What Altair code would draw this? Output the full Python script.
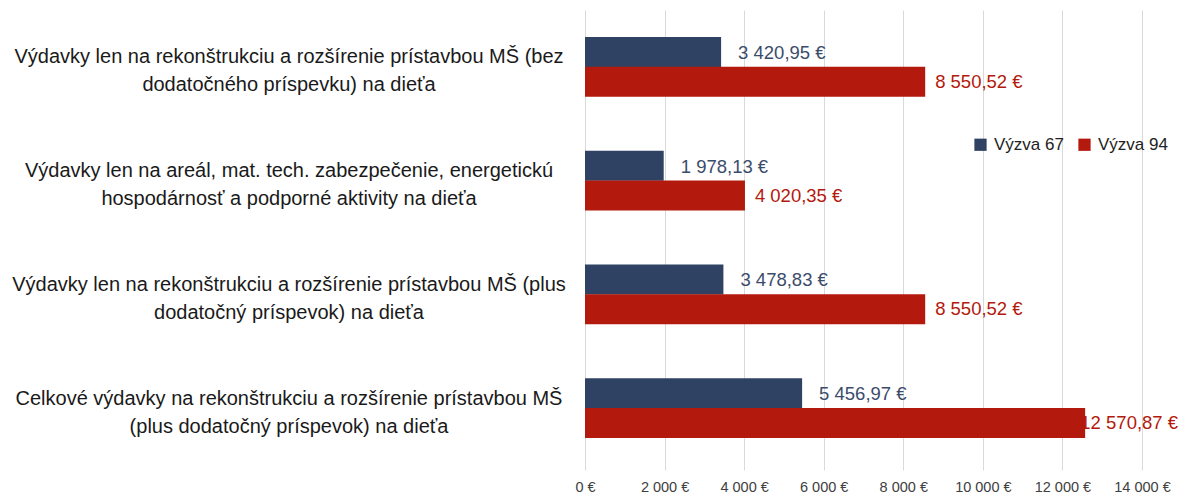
import altair as alt
import pandas as pd

categories = [
    "Výdavky len na rekonštrukciu a rozšírenie prístavbou MŠ (bez|dodatočného  príspevku) na  dieťa",
    "Výdavky len na areál, mat. tech.  zabezpečenie, energetickú|hospodárnosť a podporné aktivity na dieťa",
    "Výdavky len na rekonštrukciu a rozšírenie prístavbou MŠ (plus|dodatočný príspevok) na dieťa",
    "Celkové výdavky na rekonštrukciu a rozšírenie prístavbou MŠ|(plus dodatočný príspevok) na dieťa",
]
series = ["Výzva 67", "Výzva 94"]
v67 = [3420.95, 1978.13, 3478.83, 5456.97]
v94 = [8550.52, 4020.35, 8550.52, 12570.87]
tick_values = [0, 2000, 4000, 6000, 8000, 10000, 12000, 14000]

def fmt(v):
    s = f"{v:,.2f}".replace(",", " ").replace(".", ",")
    return s + " €"

rows = []
for c, a, b in zip(categories, v67, v94):
    rows.append({"cat": c, "series": series[0], "value": a, "label": fmt(a)})
    rows.append({"cat": c, "series": series[1], "value": b, "label": fmt(b)})
df = pd.DataFrame(rows)
cat_df = pd.DataFrame({"cat": categories})

FONT = "Liberation Sans"
BLUE = "#2f4263"
RED = "#b3190c"

yscale = alt.Scale(paddingInner=0.473, paddingOuter=0.2365)
y_enc = alt.Y("cat:N", sort=categories, axis=None, scale=yscale)
x_enc = alt.X("value:Q", scale=alt.Scale(domain=[0, 14000], nice=False),
              axis=alt.Axis(values=tick_values, title=None, labelOverlap=False, labelFlush=False,
                            labelExpr="datum.value == 0 ? '0 €' : floor(datum.value/1000) + ' 000 €'",
                            labelFont=FONT, labelFontSize=14.5, labelColor="#404040",
                            labelPadding=10, grid=True, gridColor="#d9d9d9",
                            tickColor="#d9d9d9", tickSize=5, domain=False))
color_enc = alt.Color("series:N", scale=alt.Scale(domain=series, range=[BLUE, RED]),
                      legend=alt.Legend(title=None, orient="none", legendX=387, legendY=126,
                                        direction="horizontal", symbolType="square",
                                        symbolSize=150, symbolStrokeWidth=0,
                                        labelFont=FONT, labelFontSize=17, labelColor="#222222",
                                        columnPadding=12, labelOffset=5))

base = alt.Chart(df)
yoff = alt.YOffset("series:N", sort=series)
bars = base.mark_bar(size=30).encode(y=y_enc, x=x_enc, color=color_enc, yOffset=yoff)

txt67 = base.transform_filter(alt.datum.series == series[0]).mark_text(
    align="left", baseline="middle", dx=17, font=FONT, fontSize=18.5, color="#3b4c6b", dy=1
).encode(y=y_enc, x="value:Q", yOffset=yoff, text="label:N")

# Excel keeps outside-end labels inside the chart area: shift the label left if it would overflow
txt94 = base.transform_filter(alt.datum.series == series[1]).transform_calculate(
    lx="min(datum.value + 250, 12450)"
).mark_text(
    align="left", baseline="middle", font=FONT, fontSize=18.5, color=RED
).encode(y=y_enc, x="lx:Q", yOffset=yoff, text="label:N")

cat_labels = alt.Chart(cat_df).mark_text(
    align="center", baseline="middle", lineBreak="|", lineHeight=28,
    font=FONT, fontSize=20, color="#1a1a1a", dy=-9.5
).encode(y=alt.Y("cat:N", sort=categories, axis=None, scale=yscale),
         x=alt.value(-296), text="cat:N")

chart = alt.layer(bars, txt67, txt94, cat_labels).properties(
    width=557, height=455,
    autosize=alt.AutoSizeParams(type="none"),
    padding={"left": 577, "top": 2, "right": 37, "bottom": 30},
).configure_view(stroke=None)

chart.save("out.html", embed_options={"renderer": "svg", "actions": False})
